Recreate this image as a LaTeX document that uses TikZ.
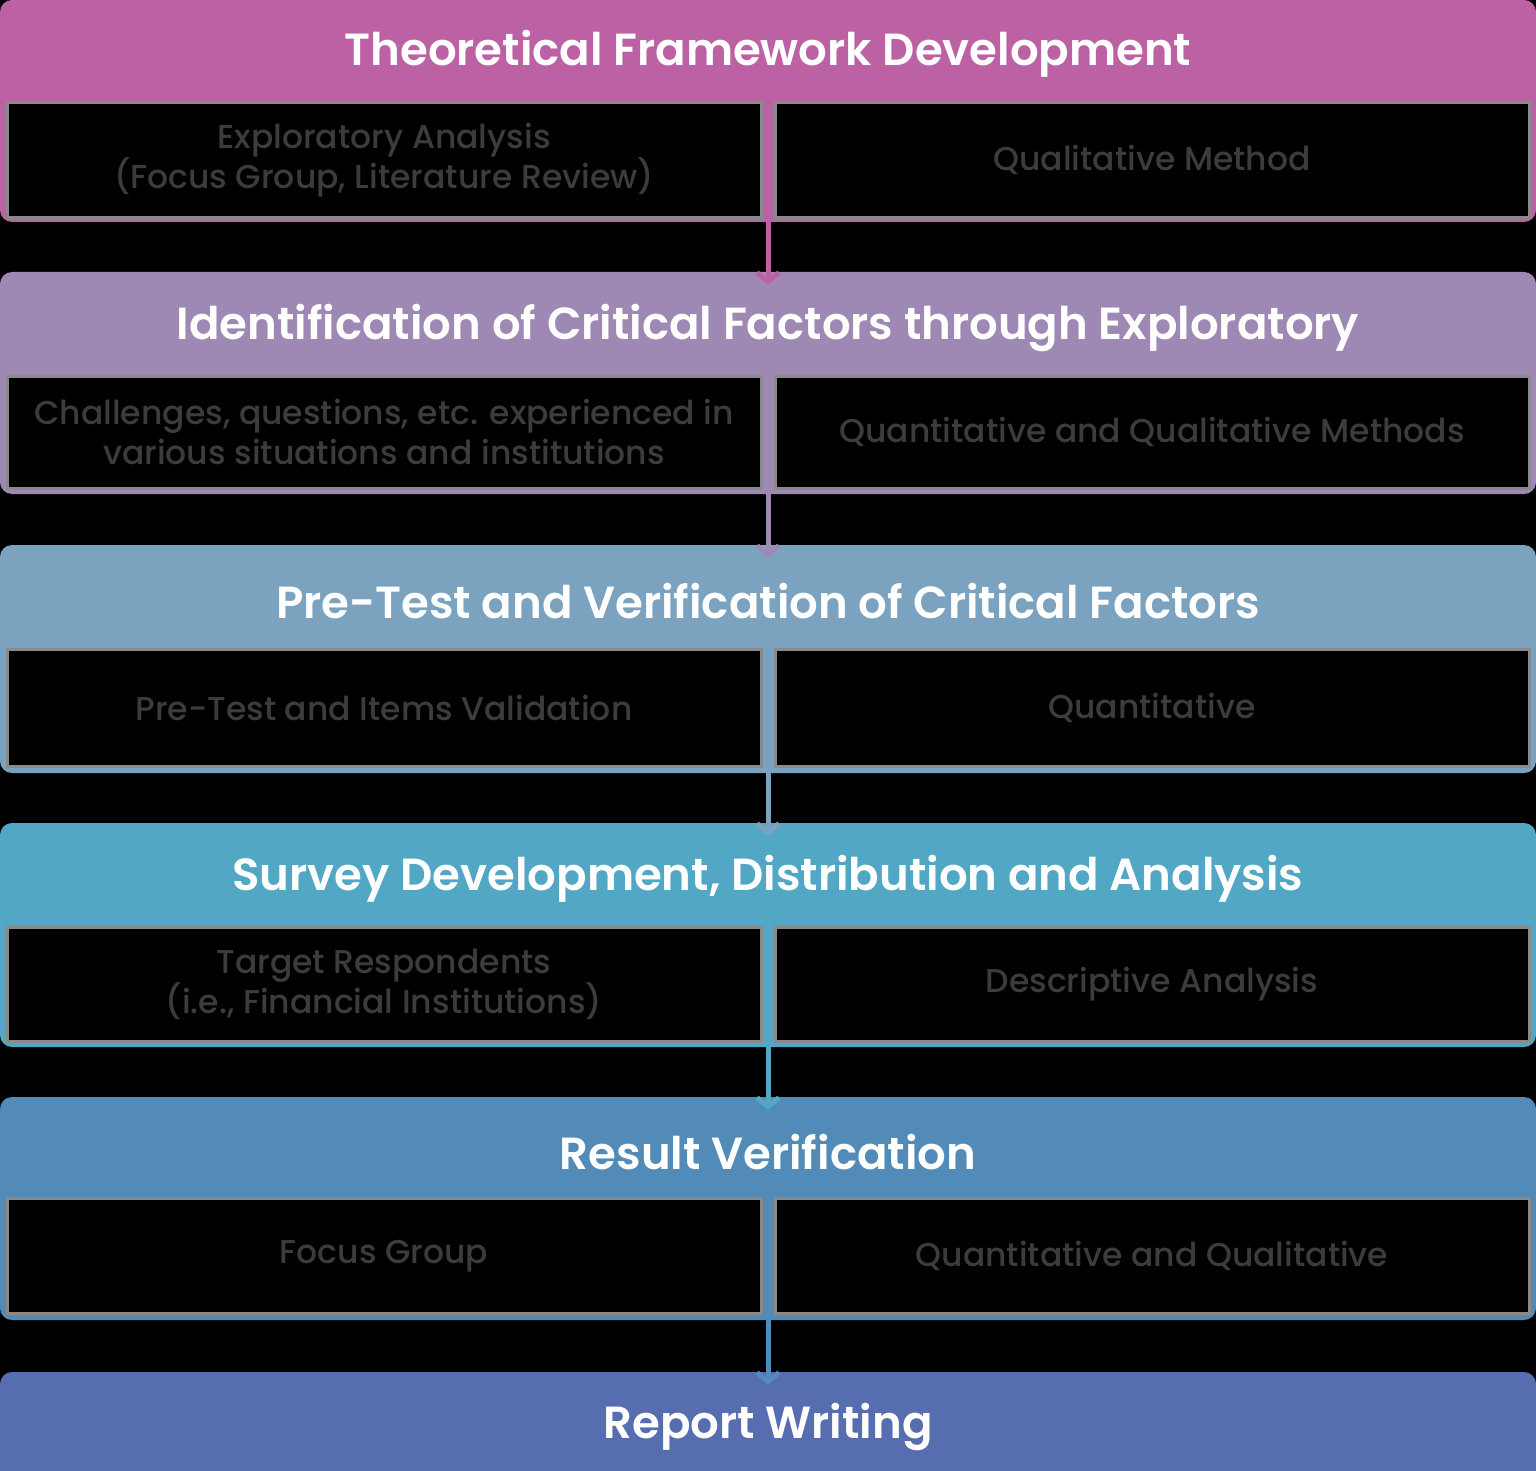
\documentclass[tikz,border=0pt]{standalone}
\usepackage{fontspec}
\setmainfont{Poppins}
\newfontfamily\titlefont{Poppins SemiBold}
\newfontfamily\cellfont{Poppins Medium}
\usetikzlibrary{arrows.meta}
\definecolor{cA}{HTML}{BC62A4}
\definecolor{cB}{HTML}{9E88B4}
\definecolor{cC}{HTML}{7BA3C0}
\definecolor{cD}{HTML}{52A8C4}
\definecolor{cE}{HTML}{538BB8}
\definecolor{cF}{HTML}{566DB0}
\definecolor{celltext}{HTML}{3C3C3E}
\definecolor{cellline}{HTML}{8A8A8A}
\tikzset{
  x=1pt, y=-1pt,
  head/.style={inner sep=0pt, minimum width=1536pt, text=white, font=\titlefont\fontsize{45}{52}\selectfont},
  cell/.style={draw=cellline, line width=3pt, fill=black, inner sep=0pt, minimum width=754pt,
     text=celltext, align=center, font=\cellfont\fontsize{33}{40}\selectfont},
  frame/.style={rounded corners=12pt},
  link/.style={line width=5pt, -{Straight Barb[length=9pt,width=22pt,line width=5pt]}}
}
\begin{document}
\begin{tikzpicture}
\fill[black] (0,0) rectangle (1536,1471);
\useasboundingbox (0,0) rectangle (1536,1471);
% block 1
\fill[cA,frame] (0,0) rectangle (1536,222);
\node[head, minimum height=100pt] (h1) at (768,54) {Theoretical Framework Development};
\node[cell, minimum height=115pt] (c1l) at (384,160) {Exploratory Analysis\\(Focus Group, Literature Review)};
\node[cell, minimum height=115pt] (c1r) at (1152,160) {Qualitative Method};
% block 2
\fill[cB,frame] (0,272) rectangle (1536,494);
\node[head, minimum height=103pt] (h2) at (768,328.5) {Identification of Critical Factors through Exploratory};
\node[cell, minimum height=112pt] (c2l) at (384,432) {Challenges, questions, etc. experienced in\\various situations and institutions};
\node[cell, minimum height=112pt] (c2r) at (1152,432) {Quantitative and Qualitative Methods};
% block 3
\fill[cC,frame] (0,545) rectangle (1536,773);
\node[head, minimum height=103pt] (h3) at (768,601.5) {Pre-Test and Verification of Critical Factors};
\node[cell, minimum height=117pt] (c3l) at (384,708) {Pre-Test and Items Validation};
\node[cell, minimum height=117pt] (c3r) at (1152,708) {Quantitative};
% block 4
\fill[cD,frame] (0,823) rectangle (1536,1047);
\node[head, minimum height=102pt] (h4) at (768,879) {Survey Development, Distribution and Analysis};
\node[cell, minimum height=114pt] (c4l) at (384,984) {Target Respondents\\(i.e., Financial Institutions)};
\node[cell, minimum height=114pt] (c4r) at (1152,984) {Descriptive Analysis};
% block 5
\fill[cE,frame] (0,1097) rectangle (1536,1320);
\node[head, minimum height=100pt] (h5) at (768,1152) {Result Verification};
\node[cell, minimum height=115pt] (c5l) at (384,1256) {Focus Group};
\node[cell, minimum height=115pt] (c5r) at (1152,1256) {Quantitative and Qualitative};
% block 6
\fill[cF,frame] (0,1372) rectangle (1536,1490);
\node[head, minimum height=99pt] (h6) at (768,1426.5) {Report Writing};
% connectors
\draw[link, cA] (h1.south) -- ([yshift=-8pt]h2.north);
\draw[link, cB] (h2.south) -- ([yshift=-8pt]h3.north);
\draw[link, cC] (h3.south) -- ([yshift=-8pt]h4.north);
\draw[link, cD] (h4.south) -- ([yshift=-8pt]h5.north);
\draw[link, cE] (h5.south) -- ([yshift=-8pt]h6.north);
\end{tikzpicture}
\end{document}
